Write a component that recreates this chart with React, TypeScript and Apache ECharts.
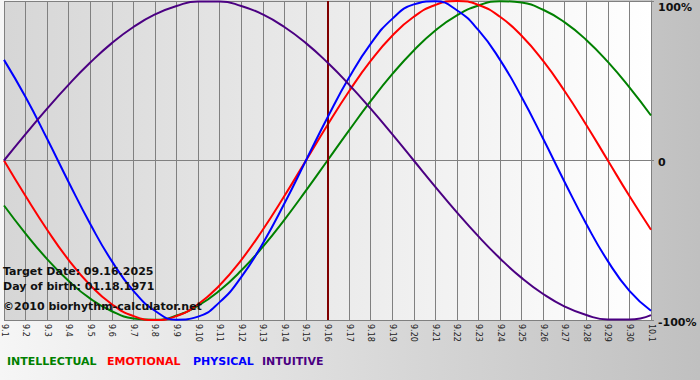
import React, { useEffect, useRef } from "react";
import * as echarts from "echarts";

const days = [
  "9.1", "9.2", "9.3", "9.4", "9.5", "9.6", "9.7", "9.8", "9.9", "9.10",
  "9.11", "9.12", "9.13", "9.14", "9.15", "9.16", "9.17", "9.18", "9.19", "9.20",
  "9.21", "9.22", "9.23", "9.24", "9.25", "9.26", "9.27", "9.28", "9.29", "9.30", "10.1",
];

const intellectual = [
  -0.282, -0.458, -0.618, -0.756, -0.866, -0.945, -0.99, -0.999, -0.972, -0.91,
  -0.815, -0.69, -0.541, -0.372, -0.189, 0, 0.189, 0.372, 0.541, 0.69,
  0.815, 0.91, 0.972, 0.999, 0.99, 0.945, 0.866, 0.756, 0.618, 0.458, 0.282,
];

const emotional = [
  0, -0.223, -0.434, -0.624, -0.782, -0.901, -0.975, -1, -0.975, -0.901,
  -0.782, -0.624, -0.434, -0.223, 0, 0.223, 0.434, 0.624, 0.782, 0.901,
  0.975, 1, 0.975, 0.901, 0.782, 0.624, 0.434, 0.223, 0, -0.223, -0.434,
];

const physical = [
  0.631, 0.398, 0.136, -0.136, -0.398, -0.631, -0.817, -0.942, -0.998, -0.979,
  -0.888, -0.731, -0.52, -0.27, 0, 0.27, 0.52, 0.731, 0.888, 0.979,
  0.998, 0.942, 0.817, 0.631, 0.398, 0.136, -0.136, -0.398, -0.631, -0.817, -0.942,
];

const intuitive = [
  0, 0.165, 0.325, 0.476, 0.614, 0.736, 0.837, 0.916, 0.969, 0.997,
  0.997, 0.969, 0.916, 0.837, 0.736, 0.614, 0.476, 0.325, 0.165, 0,
  -0.165, -0.325, -0.476, -0.614, -0.736, -0.837, -0.916, -0.969, -0.997, -0.997, -0.969,
];

const targetDay = "9.16";
const infoLines = [
  "Target Date: 09.16.2025",
  "Day of birth: 01.18.1971",
  "\u00a92010 biorhythm-calculator.net",
];
const legendNames = ["INTELLECTUAL", "EMOTIONAL", "PHYSICAL", "INTUITIVE"];
const colors = ["#008000", "#ff0000", "#0000ff", "#4b0082"];

const FONT = '"DejaVu Sans", Verdana, sans-serif';

export default function App() {
  const ref = useRef<HTMLDivElement>(null);
  useEffect(() => {
    document.body.style.margin = "0";
    if (!ref.current) return;
    const chart = echarts.init(ref.current, null, { renderer: "svg" });
    const seriesData = [intellectual, emotional, physical, intuitive];
    const legendX = [7, 107, 193, 262];
    const infoY = [271, 286, 306];
    chart.setOption({
      animation: false,
      backgroundColor: new echarts.graphic.LinearGradient(0, 0, 1, 0, [
        { offset: 0, color: "#f6f6f6" },
        { offset: 1, color: "#c0c0c0" },
      ]),
      grid: {
        left: 0,
        right: 49,
        top: 1,
        bottom: 60,
        show: true,
        borderWidth: 0,
        backgroundColor: new echarts.graphic.LinearGradient(0, 0, 1, 0, [
          { offset: 0, color: "#d6d6d6" },
          { offset: 1, color: "#ffffff" },
        ]),
      },
      xAxis: {
        type: "category",
        data: days,
        boundaryGap: false,
        axisLine: { show: true, lineStyle: { color: "#808080", width: 1 } },
        axisTick: { show: true, interval: 0, length: 3, lineStyle: { color: "#808080" } },
        axisLabel: {
          interval: 0,
          rotate: -90,
          margin: 4,
          fontSize: 8,
          fontFamily: FONT,
          color: "#222",
        },
        splitLine: { show: true, interval: 0, lineStyle: { color: "#808080", width: 1 } },
      },
      yAxis: {
        type: "value",
        position: "right",
        min: -1,
        max: 1,
        interval: 1,
        axisLine: { show: true, lineStyle: { color: "#808080" } },
        axisTick: { show: true, length: 3, lineStyle: { color: "#808080" } },
        splitLine: { show: true, lineStyle: { color: "#808080", width: 1 } },
        axisLabel: {
          margin: 7,
          formatter: (v: number) =>
            v === 1 ? "{t|100%}" : v === 0 ? "{m|0}" : "{m|-100%}",
          rich: {
            t: { padding: [12, 0, 0, 0], fontSize: 11, fontWeight: "bold", fontFamily: FONT, color: "#111" },
            m: { padding: [4, 0, 0, 0], fontSize: 11, fontWeight: "bold", fontFamily: FONT, color: "#111" },
          },
        },
      },
      series: seriesData.map((d, i) => ({
        name: legendNames[i],
        type: "line",
        data: d,
        smooth: true,
        symbol: "none",
        lineStyle: { color: colors[i], width: 2 },
        z: 3 + i,
        markLine:
          i === 0
            ? {
                silent: true,
                symbol: "none",
                label: { show: false },
                lineStyle: { color: "#800000", width: 2, type: "solid" },
                data: [{ xAxis: targetDay }],
              }
            : undefined,
      })),
      graphic: [
        ...infoLines.map((t, i) => ({
          type: "text",
          x: 3,
          y: infoY[i],
          z: 100,
          style: {
            text: t,
            fill: "#111",
            font: `bold 11px ${FONT}`,
            verticalAlign: "middle",
          },
        })),
        ...legendNames.map((t, i) => ({
          type: "text",
          x: legendX[i],
          y: 361.5,
          z: 100,
          style: {
            text: t,
            fill: colors[i],
            font: `bold 11px ${FONT}`,
            verticalAlign: "middle",
          },
        })),
      ],
    });
    return () => chart.dispose();
  }, []);
  return <div ref={ref} style={{ width: 700, height: 380 }} />;
}
